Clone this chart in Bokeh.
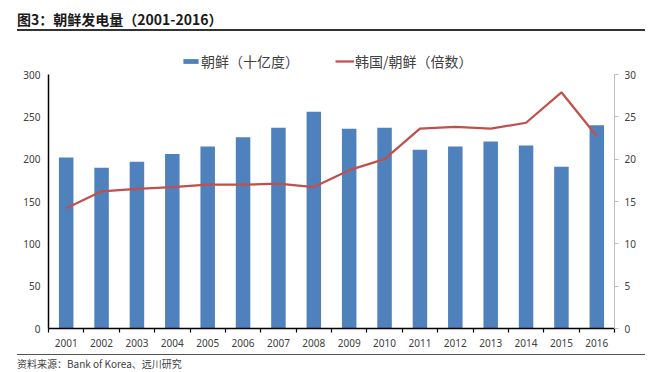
from bokeh.plotting import figure
from bokeh.models import (Range1d, LinearAxis, FixedTicker, Legend, LegendItem, Div)
from bokeh.layouts import column
from bokeh.embed import file_html
from bokeh.resources import INLINE

# ---- data ----
years = [2001, 2002, 2003, 2004, 2005, 2006, 2007, 2008,
         2009, 2010, 2011, 2012, 2013, 2014, 2015, 2016]
dprk_output = [202, 190, 197, 206, 215, 226, 237, 256,
               236, 237, 211, 215, 221, 216, 191, 240]          # 朝鲜（十亿度）
rok_dprk_ratio = [14.2, 16.2, 16.5, 16.7, 17.0, 17.0, 17.1, 16.7,
                  18.7, 20.0, 23.6, 23.8, 23.6, 24.3, 27.9, 22.7]  # 韩国/朝鲜（倍数）
left_ticks = [0, 50, 100, 150, 200, 250, 300]
right_ticks = [0, 5, 10, 15, 20, 25, 30]
title_text = "图3：朝鲜发电量（2001-2016）"
source_text = "资料来源：Bank of Korea、远川研究"
bar_label = "朝鲜（十亿度）"
line_label = "韩国/朝鲜（倍数）"

TXT = "#404040"
CJK = "Noto Sans CJK SC"
NUM = "Noto Sans"

# layout (pixels)
FIG_H = 316
BORDER_TOP = 10
BORDER_BOTTOM = 22
AXIS_PX = 254          # pixel height of the 0..300 axis span
frame_h = FIG_H - BORDER_TOP - BORDER_BOTTOM
stretch = frame_h / AXIS_PX   # extra headroom above the axes for the legend

title_div = Div(
    text=(f'<div style="margin-left:17px;width:628px;height:31px;box-sizing:border-box;'
          f'border-bottom:2px solid #333;font-family:\'{CJK}\';font-weight:bold;'
          f'font-size:14px;line-height:14px;padding-top:12px;color:#1a1a1a;'
          f'white-space:nowrap;">{title_text}</div>'),
    width=654, height=34, margin=0)

p = figure(width=654, height=FIG_H, output_backend="svg", toolbar_location=None,
           x_range=Range1d(years[0] - 0.5, years[-1] + 0.5),
           y_range=Range1d(left_ticks[0], left_ticks[-1] * stretch),
           min_border_left=48, min_border_right=40,
           min_border_top=BORDER_TOP, min_border_bottom=BORDER_BOTTOM, margin=0)
p.outline_line_color = None
p.xgrid.visible = False
p.ygrid.visible = False

p.extra_y_ranges = {"ratio": Range1d(right_ticks[0], right_ticks[-1] * stretch)}

bars = p.vbar(x=years, top=dprk_output, width=0.41,
              fill_color="#4F81BD", line_color=None)
line = p.line(x=years, y=rok_dprk_ratio, y_range_name="ratio",
              line_color="#C0504D", line_width=2.25)

# bottom axis: labels at centres, ticks at category boundaries
xa = p.xaxis[0]
xa.ticker = FixedTicker(ticks=years,
                        minor_ticks=[y - 0.5 for y in years] + [years[-1] + 0.5])
xa.major_tick_out = 0
xa.major_tick_in = 0
xa.minor_tick_out = 4
xa.minor_tick_in = 0
xa.minor_tick_line_color = "black"
xa.minor_tick_line_width = 1.2
xa.axis_line_color = "black"
xa.axis_line_width = 1.5
xa.major_label_standoff = 6
xa.major_label_text_font = NUM
xa.major_label_text_font_size = "10px"
xa.major_label_text_color = TXT

ya = p.yaxis[0]
ya.ticker = FixedTicker(ticks=left_ticks)
ya.bounds = (left_ticks[0], left_ticks[-1])
ya.major_tick_out = 0
ya.major_tick_in = 0
ya.minor_tick_out = 0
ya.minor_tick_in = 0
ya.axis_line_color = "black"
ya.axis_line_width = 1.5
ya.major_label_standoff = 8
ya.major_label_text_font = NUM
ya.major_label_text_font_size = "10px"
ya.major_label_text_color = TXT

ra = LinearAxis(y_range_name="ratio", ticker=FixedTicker(ticks=right_ticks),
                bounds=(right_ticks[0], right_ticks[-1]))
ra.axis_line_color = "#BFBFBF"
ra.major_tick_out = 4
ra.major_tick_in = 0
ra.major_tick_line_color = "#BFBFBF"
ra.minor_tick_out = 0
ra.minor_tick_in = 0
ra.major_label_standoff = 6
ra.major_label_text_font = NUM
ra.major_label_text_font_size = "10px"
ra.major_label_text_color = TXT
p.add_layout(ra, "right")

legend = Legend(items=[LegendItem(label=bar_label, renderers=[bars]),
                       LegendItem(label=line_label, renderers=[line])],
                orientation="horizontal", location=(133, 257),
                border_line_color=None, background_fill_alpha=0,
                padding=2, margin=0, spacing=36, label_standoff=1,
                glyph_width=19, glyph_height=6,
                label_text_font=CJK, label_text_font_size="14px",
                label_text_color=TXT)
p.add_layout(legend)

source_div = Div(
    text=(f'<div style="margin-left:17px;margin-top:4px;width:628px;box-sizing:border-box;'
          f'border-top:1.5px solid #555;font-family:\'{CJK}\';font-size:10px;'
          f'line-height:13px;padding-top:2px;color:{TXT};white-space:nowrap;">'
          f'{source_text}</div>'),
    width=654, height=22, margin=0)

layout = column(title_div, p, source_div, spacing=0, margin=0)

open("out.html", "w").write(file_html(layout, INLINE))
